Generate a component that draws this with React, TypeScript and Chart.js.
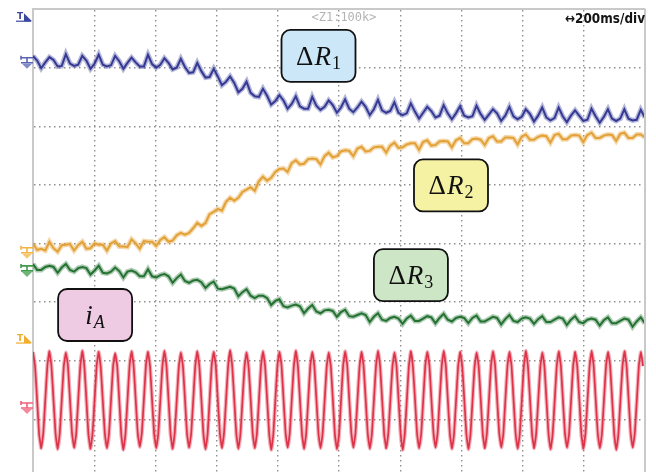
import React, { useEffect, useRef } from "react";
import { Chart, registerables } from "chart.js";

Chart.register(...registerables);

// ---- time base: 10 div x 200 ms/div ----
const TIME_SPAN_MS = 2000;
const TIME_DIV_MS = 200;
const Y_DIVS = 8;
const SLOW_STEP_MS = 13.42; // sample spacing of the resistance traces
const FAST_STEP_MS = 6.712; // sample spacing of the current trace

// ---- channel values (div, relative to each channel's ground marker) ----
const deltaR1 = [
  0.10, 0.02, -0.11, -0.01, 0.08, 0.03, -0.08, -0.07, 0.13, -0.03,
  -0.07, -0.05, 0.10, 0.02, -0.12, -0.03, 0.12, -0.05, -0.08, -0.06,
  0.10, 0.01, -0.12, -0.02, 0.07, -0.01, -0.08, -0.08, 0.12, -0.04,
  -0.10, -0.05, 0.06, -0.02, -0.13, -0.10, 0.05, -0.09, -0.19, -0.18,
  -0.02, -0.16, -0.27, -0.26, -0.12, -0.25, -0.40, -0.34, -0.25, -0.36,
  -0.52, -0.46, -0.34, -0.53, -0.59, -0.60, -0.46, -0.58, -0.73, -0.67,
  -0.57, -0.66, -0.80, -0.72, -0.59, -0.76, -0.80, -0.80, -0.60, -0.75,
  -0.82, -0.77, -0.66, -0.74, -0.87, -0.78, -0.64, -0.80, -0.86, -0.78,
  -0.68, -0.77, -0.91, -0.81, -0.65, -0.83, -0.87, -0.84, -0.69, -0.87,
  -0.91, -0.88, -0.71, -0.85, -0.97, -0.87, -0.77, -0.84, -0.95, -0.92,
  -0.74, -0.88, -0.98, -0.88, -0.76, -0.92, -0.95, -0.93, -0.75, -0.89,
  -0.99, -0.90, -0.81, -0.88, -1.01, -0.92, -0.77, -0.93, -0.98, -0.94,
  -0.81, -0.89, -1.02, -0.92, -0.78, -0.95, -1.00, -0.96, -0.78, -0.93,
  -1.03, -0.92, -0.83, -0.92, -1.01, -0.99, -0.80, -0.93, -1.04, -0.94,
  -0.81, -0.97, -1.01, -0.97, -0.81, -0.97, -1.00, -0.99, -0.82, -0.95,
];

const deltaR2 = [
  0.14, 0.03, 0.05, 0.02, 0.17, 0.06, 0.00, 0.11, 0.12, 0.13,
  0.02, 0.11, 0.17, 0.05, 0.06, 0.14, 0.12, 0.12, 0.02, 0.14,
  0.18, 0.09, 0.09, 0.08, 0.21, 0.14, 0.05, 0.18, 0.17, 0.17,
  0.10, 0.20, 0.25, 0.17, 0.19, 0.28, 0.32, 0.29, 0.32, 0.40,
  0.49, 0.44, 0.49, 0.64, 0.68, 0.73, 0.70, 0.85, 0.92, 0.87,
  0.92, 1.02, 1.06, 1.10, 1.04, 1.20, 1.28, 1.21, 1.26, 1.36,
  1.41, 1.42, 1.36, 1.51, 1.56, 1.49, 1.50, 1.58, 1.59, 1.58,
  1.49, 1.63, 1.69, 1.61, 1.63, 1.71, 1.73, 1.72, 1.63, 1.76,
  1.79, 1.71, 1.72, 1.78, 1.79, 1.79, 1.69, 1.81, 1.86, 1.77,
  1.78, 1.83, 1.85, 1.85, 1.74, 1.87, 1.90, 1.81, 1.82, 1.88,
  1.89, 1.88, 1.78, 1.90, 1.94, 1.85, 1.85, 1.92, 1.93, 1.91,
  1.82, 1.94, 1.97, 1.88, 1.88, 1.95, 1.95, 1.94, 1.83, 1.96,
  2.00, 1.91, 1.91, 1.96, 1.98, 1.97, 1.86, 1.99, 2.01, 1.92,
  1.92, 1.98, 1.99, 1.98, 1.87, 1.99, 2.03, 1.94, 1.94, 1.98,
  2.00, 1.99, 1.89, 2.01, 2.03, 1.94, 1.94, 2.00, 2.00, 1.95,
];

const deltaR3 = [
  0.10, 0.00, 0.00, 0.05, 0.07, 0.05, -0.05, 0.04, 0.10, 0.00,
  -0.03, 0.03, 0.05, 0.03, -0.08, -0.01, 0.07, -0.05, -0.06, -0.03,
  0.04, -0.02, -0.13, -0.03, -0.01, -0.04, -0.11, -0.11, 0.01, -0.11,
  -0.13, -0.09, -0.07, -0.11, -0.22, -0.14, -0.08, -0.19, -0.22, -0.18,
  -0.17, -0.21, -0.31, -0.24, -0.20, -0.32, -0.33, -0.31, -0.29, -0.32,
  -0.45, -0.38, -0.33, -0.44, -0.48, -0.44, -0.44, -0.48, -0.60, -0.53,
  -0.50, -0.62, -0.64, -0.61, -0.59, -0.62, -0.74, -0.66, -0.60, -0.71,
  -0.74, -0.69, -0.68, -0.70, -0.80, -0.72, -0.68, -0.79, -0.80, -0.77,
  -0.74, -0.77, -0.89, -0.80, -0.74, -0.85, -0.87, -0.82, -0.80, -0.83,
  -0.92, -0.83, -0.78, -0.87, -0.87, -0.83, -0.79, -0.81, -0.91, -0.82,
  -0.75, -0.85, -0.88, -0.82, -0.80, -0.82, -0.91, -0.82, -0.78, -0.88,
  -0.88, -0.84, -0.80, -0.82, -0.93, -0.84, -0.77, -0.87, -0.89, -0.83,
  -0.81, -0.83, -0.92, -0.84, -0.79, -0.89, -0.89, -0.85, -0.81, -0.83,
  -0.94, -0.85, -0.79, -0.89, -0.91, -0.85, -0.83, -0.85, -0.95, -0.86,
  -0.81, -0.91, -0.91, -0.87, -0.83, -0.85, -0.97, -0.88, -0.81, -0.91,
];

const currentA = [
  0.94, 0.70, 0.12, -0.47, -0.70, -0.45, 0.13, 0.71,
  0.95, 0.69, 0.11, -0.46, -0.72, -0.46, 0.12, 0.70,
  0.93, 0.71, 0.13, -0.45, -0.69, -0.47, 0.11, 0.69,
  0.96, 0.70, 0.12, -0.47, -0.71, -0.45, 0.13, 0.71,
  0.94, 0.68, 0.10, -0.46, -0.70, -0.46, 0.12, 0.70,
  0.92, 0.70, 0.12, -0.48, -0.73, -0.47, 0.11, 0.70,
  0.95, 0.71, 0.13, -0.45, -0.68, -0.44, 0.13, 0.72,
  0.94, 0.69, 0.11, -0.46, -0.70, -0.46, 0.12, 0.70,
  0.96, 0.70, 0.12, -0.47, -0.71, -0.45, 0.12, 0.69,
  0.93, 0.70, 0.13, -0.46, -0.69, -0.46, 0.11, 0.70,
  0.95, 0.69, 0.12, -0.47, -0.72, -0.47, 0.12, 0.71,
  0.94, 0.71, 0.11, -0.45, -0.70, -0.45, 0.13, 0.70,
  0.97, 0.70, 0.12, -0.46, -0.71, -0.46, 0.12, 0.69,
  0.93, 0.68, 0.12, -0.47, -0.70, -0.46, 0.11, 0.70,
  0.95, 0.70, 0.13, -0.46, -0.73, -0.47, 0.12, 0.71,
  0.94, 0.71, 0.12, -0.45, -0.69, -0.45, 0.13, 0.70,
  0.96, 0.69, 0.11, -0.47, -0.71, -0.46, 0.12, 0.70,
  0.94, 0.70, 0.12, -0.46, -0.70, -0.46, 0.11, 0.69,
  0.93, 0.70, 0.13, -0.47, -0.72, -0.47, 0.12, 0.71,
  0.95, 0.71, 0.12, -0.45, -0.69, -0.45, 0.13, 0.70,
  0.94, 0.69, 0.11, -0.46, -0.71, -0.46, 0.12, 0.70,
  0.96, 0.70, 0.12, -0.47, -0.70, -0.45, 0.12, 0.69,
  0.93, 0.70, 0.12, -0.46, -0.73, -0.47, 0.11, 0.70,
  0.95, 0.68, 0.13, -0.46, -0.70, -0.46, 0.12, 0.71,
  0.94, 0.71, 0.12, -0.45, -0.69, -0.45, 0.13, 0.70,
  0.96, 0.70, 0.11, -0.47, -0.71, -0.46, 0.12, 0.70,
  0.94, 0.69, 0.12, -0.46, -0.72, -0.47, 0.11, 0.69,
  0.93, 0.70, 0.13, -0.47, -0.70, -0.45, 0.12, 0.71,
  0.95, 0.71, 0.12, -0.45, -0.69, -0.46, 0.13, 0.70,
  0.94, 0.70, 0.11, -0.46, -0.71, -0.46, 0.12, 0.70,
  0.96, 0.69, 0.12, -0.47, -0.70, -0.45, 0.12, 0.69,
  0.93, 0.70, 0.12, -0.46, -0.72, -0.47, 0.11, 0.70,
  0.95, 0.71, 0.13, -0.45, -0.69, -0.46, 0.12, 0.71,
  0.94, 0.69, 0.12, -0.47, -0.71, -0.45, 0.13, 0.70,
  0.96, 0.70, 0.11, -0.46, -0.70, -0.46, 0.12, 0.70,
  0.94, 0.70, 0.12, -0.47, -0.73, -0.47, 0.11, 0.69,
  0.95, 0.71, 0.13, -0.45, -0.69, -0.45, 0.12, 0.71,
  0.94, 0.70,
];

// ---- channel setup (offset = ground marker level in div) ----
const channels = [
  { values: deltaR2, step: SLOW_STEP_MS, offset: 3.86, color: "#dc992a", width: 2, marker: "#f2b544", halo: "rgba(232,170,70,0.45)", haloWidth: 5, tension: 0 },
  { values: deltaR3, step: SLOW_STEP_MS, offset: 3.55, color: "#1d6a29", width: 2, marker: "#3f9c4c", halo: "rgba(50,125,65,0.4)", haloWidth: 5, tension: 0 },
  { values: deltaR1, step: SLOW_STEP_MS, offset: 7.10, color: "#2a2e8a", width: 2, marker: "#5a64b4", halo: "rgba(70,75,160,0.4)", haloWidth: 5, tension: 0 },
  { values: currentA, step: FAST_STEP_MS, offset: 1.21, color: "#d81c34", width: 1.7, marker: "#f0607c", halo: "rgba(228,80,100,0.45)", haloWidth: 4, tension: 0.1 },
];

const triggerMarks = [
  { y: 7.86, color: "#3a46a0" },
  { y: 2.37, color: "#f0ad2e" },
];

const labelBoxes = [
  { lead: "Δ", ital: "R", sub: "1", subItalic: false, x: 933, y: 7.2, fill: "#cce8f8" },
  { lead: "Δ", ital: "R", sub: "2", subItalic: false, x: 1366, y: 4.99, fill: "#f6f2a4" },
  { lead: "Δ", ital: "R", sub: "3", subItalic: false, x: 1235, y: 3.46, fill: "#cde6c6" },
  { lead: "", ital: "i", sub: "A", subItalic: true, x: 203, y: 2.78, fill: "#eecae3" },
];

const zoomText = "<Z1:100k>";
const timebaseText = "↔200ms/div";

const SERIF = "'Liberation Serif', 'Times New Roman', serif";
const FRAME = "#c9c9c9";

function drawGround(ctx: CanvasRenderingContext2D, x: number, y: number, color: string) {
  ctx.save();
  ctx.strokeStyle = color;
  ctx.fillStyle = color;
  ctx.lineWidth = 1.6;
  ctx.beginPath();
  ctx.moveTo(x - 6, y - 4);
  ctx.lineTo(x + 6, y - 4);
  ctx.moveTo(x - 6, y - 6);
  ctx.lineTo(x - 6, y - 2);
  ctx.moveTo(x, y - 4);
  ctx.lineTo(x, y + 1);
  ctx.moveTo(x - 6, y + 1);
  ctx.lineTo(x + 6, y + 1);
  ctx.stroke();
  ctx.globalAlpha = 0.75;
  ctx.beginPath();
  ctx.moveTo(x - 5, y + 2);
  ctx.lineTo(x + 5, y + 2);
  ctx.lineTo(x, y + 7);
  ctx.closePath();
  ctx.fill();
  ctx.restore();
}

function drawTrigger(ctx: CanvasRenderingContext2D, x: number, y: number, color: string) {
  ctx.save();
  ctx.fillStyle = color;
  ctx.strokeStyle = color;
  ctx.font = "bold 9px 'DejaVu Sans', sans-serif";
  ctx.textBaseline = "alphabetic";
  ctx.fillText("T", x, y + 2);
  ctx.lineWidth = 1.2;
  ctx.beginPath();
  ctx.moveTo(x - 1, y + 4);
  ctx.lineTo(x + 14, y + 4);
  ctx.stroke();
  ctx.beginPath();
  ctx.moveTo(x + 7, y - 4);
  ctx.lineTo(x + 7, y + 4);
  ctx.lineTo(x + 15, y + 4);
  ctx.closePath();
  ctx.fill();
  ctx.restore();
}

const scopePlugin = {
  id: "scopeDecor",
  afterDraw(chart: any) {
    const { ctx, chartArea, scales } = chart;
    const xs = scales.x;
    const ys = scales.y;
    ctx.save();
    // right frame edge
    ctx.strokeStyle = FRAME;
    ctx.lineWidth = 2;
    ctx.beginPath();
    ctx.moveTo(chartArea.right, chartArea.top);
    ctx.lineTo(chartArea.right, chartArea.bottom);
    ctx.stroke();

    // ground markers
    for (const ch of channels) {
      drawGround(ctx, chartArea.left - 6, ys.getPixelForValue(ch.offset), ch.marker);
    }
    for (const t of triggerMarks) {
      drawTrigger(ctx, chartArea.left - 16, ys.getPixelForValue(t.y), t.color);
    }

    // header texts
    ctx.fillStyle = "#b4b4b4";
    ctx.font = "12px 'DejaVu Sans Mono', monospace";
    ctx.textAlign = "center";
    ctx.textBaseline = "alphabetic";
    ctx.fillText(zoomText, xs.getPixelForValue(TIME_SPAN_MS / 2) + 5, chartArea.top + 12);
    ctx.fillStyle = "#151515";
    ctx.font = "bold 14px 'DejaVu Sans', sans-serif";
    ctx.textAlign = "right";
    ctx.fillText(timebaseText, chartArea.right, chartArea.top + 14, 80);

    // label boxes
    for (const b of labelBoxes) {
      const cx = xs.getPixelForValue(b.x);
      const cy = ys.getPixelForValue(b.y);
      const w = 74;
      const h = 52;
      ctx.beginPath();
      ctx.roundRect(cx - w / 2, cy - h / 2, w, h, 9);
      ctx.fillStyle = b.fill;
      ctx.fill();
      ctx.lineWidth = 1.8;
      ctx.strokeStyle = "#111";
      ctx.stroke();

      const leadFont = `27px ${SERIF}`;
      const italFont = `italic 27px ${SERIF}`;
      const subFont = `${b.subItalic ? "italic " : ""}18px ${SERIF}`;
      ctx.font = leadFont;
      const wLead = b.lead ? ctx.measureText(b.lead).width + 1 : 0;
      ctx.font = italFont;
      const wItal = ctx.measureText(b.ital).width + 1;
      ctx.font = subFont;
      const wSub = ctx.measureText(b.sub).width;
      let x0 = cx - (wLead + wItal + wSub) / 2;
      const base = cy + 9;
      ctx.fillStyle = "#111";
      ctx.textAlign = "left";
      if (b.lead) {
        ctx.font = leadFont;
        ctx.fillText(b.lead, x0, base);
        x0 += wLead;
      }
      ctx.font = italFont;
      ctx.fillText(b.ital, x0, base);
      x0 += wItal;
      ctx.font = subFont;
      ctx.fillText(b.sub, x0, base + 4);
    }
    ctx.restore();
  },
};

export default function App() {
  const ref = useRef<HTMLCanvasElement>(null);
  useEffect(() => {
    const canvas = ref.current;
    if (!canvas) return;
    const datasets: any[] = [];
    for (const ch of channels) {
      const pts = ch.values.map((v, i) => ({ x: i * ch.step, y: ch.offset + v }));
      datasets.push({
        data: pts,
        borderColor: ch.halo,
        borderWidth: ch.haloWidth,
        pointRadius: 0,
        tension: ch.tension,
        fill: false,
      });
      datasets.push({
        data: pts,
        borderColor: ch.color,
        borderWidth: ch.width,
        pointRadius: 0,
        tension: ch.tension,
        fill: false,
      });
    }
    const chart = new Chart(canvas, {
      type: "line",
      data: { datasets },
      options: {
        responsive: false,
        animation: false,
        events: [],
        layout: { padding: { left: 33, top: 9, right: 11, bottom: 2 } },
        plugins: { legend: { display: false }, tooltip: { enabled: false } },
        scales: {
          x: {
            type: "linear",
            position: "top",
            min: 0,
            max: TIME_SPAN_MS,
            ticks: { display: false, stepSize: TIME_DIV_MS },
            grid: { color: "#8f8f8f", lineWidth: 1.4, drawTicks: false },
            border: { display: true, color: FRAME, width: 2, dash: [1.5, 3.5] },
          },
          y: {
            type: "linear",
            position: "left",
            min: 0,
            max: Y_DIVS,
            ticks: { display: false, stepSize: 1 },
            grid: { color: "#8f8f8f", lineWidth: 1.4, drawTicks: false },
            border: { display: true, color: FRAME, width: 2, dash: [1.5, 3.5] },
          },
        },
      },
      plugins: [scopePlugin],
    });
    return () => chart.destroy();
  }, []);
  return (
    <div style={{ position: "fixed", left: 0, top: 0, width: 656, height: 480, background: "#fff" }}>
      <canvas ref={ref} width={656} height={480} style={{ display: "block" }} />
    </div>
  );
}
